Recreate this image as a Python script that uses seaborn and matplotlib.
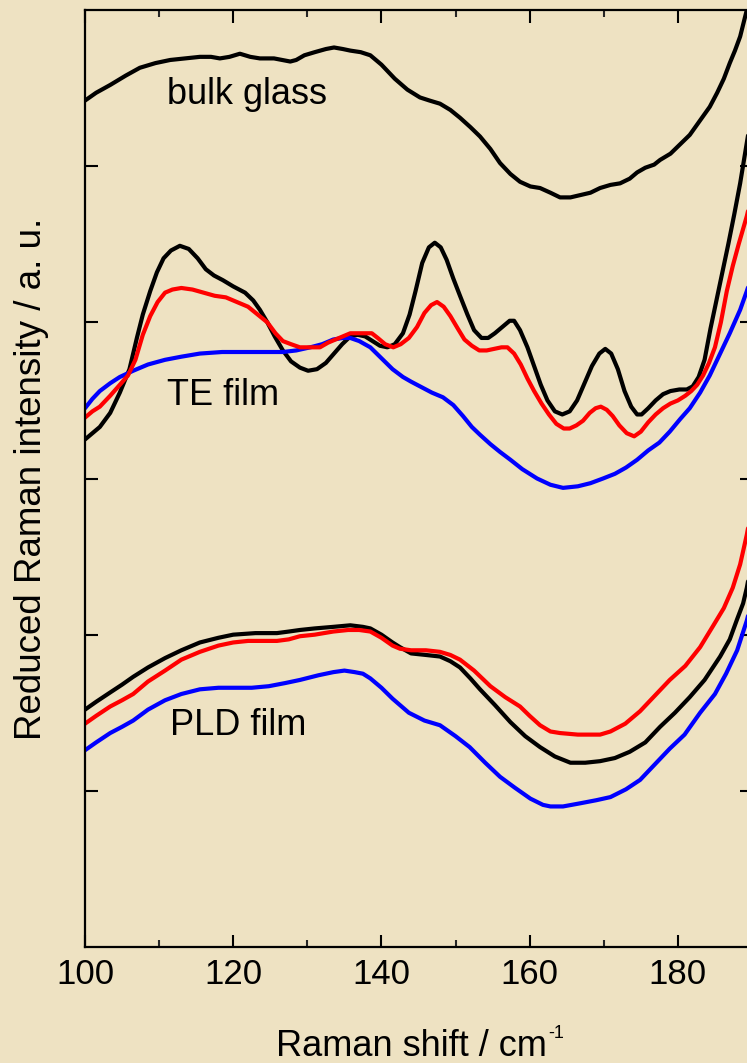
import numpy as np
import pandas as pd
import matplotlib
matplotlib.use("Agg")
import matplotlib.pyplot as plt
from matplotlib.ticker import MultipleLocator
import seaborn as sns

# ---------------- data (Raman shift in cm^-1, reduced intensity in a.u.) ----------------
bulk_x = [100.0, 101.5, 103.4, 105.5, 107.4, 109.5, 111.5, 113.5, 115.5, 117.0, 118.2, 119.5,
          120.9, 122.3, 123.6, 125.5, 127.7, 128.5, 129.6, 131.0, 132.5, 133.6, 134.8, 135.8,
          137.2, 138.5, 140.0, 141.8, 143.5, 145.2, 146.5, 147.9, 149.3, 150.6, 152.0, 153.3,
          154.7, 156.0, 157.4, 158.7, 160.1, 161.4, 162.8, 164.1, 165.5, 166.4, 168.2, 169.5,
          170.9, 172.2, 173.5, 174.5, 175.6, 176.8, 177.6, 179.0, 180.3, 181.6, 182.5, 183.4,
          184.3, 185.3, 186.2, 187.0, 187.7, 188.4, 189.3, 190.0]
bulk_y = [5.42, 5.47, 5.52, 5.58, 5.63, 5.66, 5.68, 5.69, 5.70, 5.70, 5.69, 5.70,
          5.72, 5.70, 5.69, 5.69, 5.67, 5.68, 5.71, 5.73, 5.75, 5.76, 5.75, 5.74,
          5.73, 5.71, 5.65, 5.56, 5.49, 5.44, 5.42, 5.40, 5.36, 5.31, 5.25, 5.19,
          5.11, 5.02, 4.95, 4.90, 4.87, 4.86, 4.83, 4.80, 4.80, 4.81, 4.83, 4.86,
          4.88, 4.89, 4.92, 4.96, 4.99, 5.01, 5.04, 5.08, 5.14, 5.20, 5.26, 5.32,
          5.38, 5.47, 5.56, 5.66, 5.74, 5.83, 6.00, 6.12]

te_black_x = [100.0, 101.0, 102.0, 103.4, 104.7, 106.0, 107.0, 107.8, 108.8, 109.7, 110.6, 111.6,
              112.8, 114.0, 115.2, 116.3, 117.4, 118.6, 120.0, 121.6, 122.7, 123.6, 124.6, 125.6,
              126.7, 127.8, 129.0, 130.1, 131.3, 132.5, 133.6, 134.7, 135.8, 136.8, 137.8, 138.8,
              139.8, 140.8, 141.8, 142.9, 143.8, 144.6, 145.5, 146.4, 147.2, 148.0, 148.8, 149.7,
              150.6, 151.6, 152.5, 153.5, 154.4, 155.3, 156.3, 157.3, 157.9, 158.7, 159.7, 160.6,
              161.5, 162.4, 163.4, 164.4, 165.4, 166.4, 167.4, 168.4, 169.4, 170.2, 171.0, 171.9,
              172.8, 173.7, 174.5, 175.1, 176.0, 177.0, 178.0, 179.0, 180.2, 181.2, 182.0, 182.8,
              183.6, 184.4, 185.2, 186.0, 186.8, 187.6, 188.4, 189.3, 190.0]
te_black_y = [3.25, 3.29, 3.33, 3.42, 3.55, 3.70, 3.90, 4.05, 4.20, 4.32, 4.41, 4.46,
              4.49, 4.47, 4.41, 4.34, 4.30, 4.27, 4.23, 4.19, 4.14, 4.08, 4.00, 3.91,
              3.82, 3.75, 3.71, 3.69, 3.70, 3.74, 3.80, 3.86, 3.91, 3.92, 3.91, 3.88,
              3.85, 3.84, 3.86, 3.93, 4.05, 4.20, 4.38, 4.48, 4.51, 4.48, 4.40, 4.28,
              4.17, 4.05, 3.95, 3.90, 3.90, 3.93, 3.97, 4.01, 4.01, 3.95, 3.84, 3.72,
              3.60, 3.50, 3.43, 3.41, 3.43, 3.50, 3.61, 3.72, 3.80, 3.83, 3.80, 3.70,
              3.56, 3.46, 3.41, 3.41, 3.45, 3.50, 3.54, 3.56, 3.57, 3.57, 3.59, 3.65,
              3.76, 3.96, 4.14, 4.32, 4.50, 4.69, 4.89, 5.15, 5.35]

te_red_x = [100.0, 101.0, 102.0, 103.4, 104.7, 105.8, 106.8, 107.8, 108.8, 109.8, 110.8, 111.8,
            113.0, 114.5, 116.0, 117.5, 119.0, 120.5, 122.0, 123.3, 124.6, 125.7, 126.7, 127.8,
            129.0, 130.4, 131.7, 132.8, 133.8, 134.8, 135.8, 137.0, 137.8, 138.7, 139.5, 140.5,
            141.6, 142.6, 143.7, 144.8, 145.8, 146.7, 147.5, 148.4, 149.3, 150.3, 151.2, 152.2,
            153.2, 154.2, 155.2, 156.2, 157.0, 157.9, 158.8, 159.7, 160.6, 161.6, 162.6, 163.6,
            164.6, 165.4, 166.3, 167.2, 168.1, 168.9, 169.6, 170.4, 171.2, 172.1, 173.1, 174.1,
            175.0, 176.0, 177.0, 178.0, 179.0, 180.0, 181.0, 181.8, 182.6, 183.4, 184.2, 185.0,
            185.8, 186.6, 187.4, 188.2, 189.3, 190.0]
te_red_y = [3.39, 3.43, 3.46, 3.53, 3.60, 3.66, 3.76, 3.92, 4.04, 4.13, 4.19, 4.21,
            4.22, 4.21, 4.19, 4.17, 4.16, 4.13, 4.10, 4.05, 4.00, 3.93, 3.88, 3.86,
            3.84, 3.84, 3.84, 3.87, 3.89, 3.91, 3.93, 3.93, 3.93, 3.93, 3.90, 3.86,
            3.84, 3.86, 3.90, 3.97, 4.06, 4.11, 4.13, 4.10, 4.04, 3.96, 3.89, 3.85,
            3.82, 3.82, 3.83, 3.84, 3.84, 3.80, 3.73, 3.64, 3.56, 3.48, 3.41, 3.35,
            3.32, 3.32, 3.34, 3.37, 3.42, 3.45, 3.46, 3.44, 3.40, 3.34, 3.29, 3.27,
            3.30, 3.36, 3.41, 3.45, 3.48, 3.50, 3.53, 3.56, 3.60, 3.66, 3.74, 3.84,
            4.00, 4.20, 4.36, 4.50, 4.68, 4.82]

te_blue_x = [100.0, 101.0, 102.0, 103.4, 104.7, 106.5, 108.5, 110.8, 113.0, 115.5, 118.5, 122.3,
             126.7, 128.5, 130.4, 132.0, 133.5, 134.8, 135.8, 137.0, 138.5, 140.0, 141.5, 142.9,
             144.0, 145.2, 146.8, 148.3, 149.7, 151.0, 152.2, 153.3, 154.7, 156.0, 157.4, 159.0,
             161.0, 162.8, 164.5, 166.5, 168.2, 169.9, 171.5, 173.0, 174.5, 176.0, 177.5, 178.9,
             180.3, 181.6, 183.0, 184.3, 185.7, 187.0, 188.4, 189.3, 190.0]
te_blue_y = [3.45, 3.51, 3.56, 3.61, 3.65, 3.69, 3.73, 3.76, 3.78, 3.80, 3.81, 3.81,
             3.81, 3.82, 3.84, 3.86, 3.89, 3.90, 3.90, 3.88, 3.84, 3.77, 3.70, 3.65,
             3.62, 3.59, 3.55, 3.52, 3.47, 3.40, 3.33, 3.28, 3.22, 3.17, 3.12, 3.06,
             3.00, 2.96, 2.94, 2.95, 2.97, 3.00, 3.03, 3.07, 3.12, 3.18, 3.23, 3.30,
             3.38, 3.45, 3.55, 3.66, 3.80, 3.93, 4.08, 4.20, 4.30]

pld_black_x = [100.0, 101.5, 103.4, 105.0, 106.5, 108.5, 110.8, 113.0, 115.5, 118.0, 120.0, 123.0,
               125.9, 127.5, 129.0, 131.0, 133.5, 135.8, 137.5, 138.5, 140.0, 141.5, 142.5, 144.0,
               146.0, 147.9, 149.3, 150.6, 152.0, 153.3, 155.3, 157.4, 159.4, 161.4, 163.4, 165.5,
               167.5, 169.5, 171.5, 173.5, 175.6, 177.6, 179.6, 181.6, 183.6, 185.7, 187.0, 188.0,
               188.8, 189.3, 190.0]
pld_black_y = [1.52, 1.57, 1.63, 1.68, 1.73, 1.79, 1.85, 1.90, 1.95, 1.98, 2.00, 2.01,
               2.01, 2.02, 2.03, 2.04, 2.05, 2.06, 2.05, 2.04, 2.00, 1.95, 1.92, 1.88,
               1.87, 1.86, 1.83, 1.79, 1.72, 1.65, 1.55, 1.44, 1.35, 1.28, 1.22, 1.18,
               1.18, 1.19, 1.21, 1.25, 1.31, 1.41, 1.50, 1.60, 1.71, 1.86, 1.97, 2.10,
               2.20, 2.30, 2.48]

pld_red_x = [100.0, 101.5, 103.4, 105.0, 106.5, 108.5, 110.8, 113.0, 115.5, 118.0, 120.0, 122.0,
             123.6, 125.9, 127.5, 129.0, 131.0, 133.5, 135.5, 137.0, 138.5, 140.0, 141.5, 142.5,
             144.0, 146.0, 147.9, 149.3, 150.6, 152.5, 154.7, 156.7, 158.7, 160.0, 161.4, 162.8,
             164.1, 166.5, 169.5, 170.9, 172.9, 174.9, 176.9, 178.9, 181.0, 183.0, 184.8, 186.2,
             187.4, 188.4, 189.3, 190.0]
pld_red_y = [1.43, 1.48, 1.54, 1.58, 1.62, 1.70, 1.77, 1.84, 1.89, 1.93, 1.95, 1.96,
             1.96, 1.96, 1.97, 1.99, 2.00, 2.02, 2.03, 2.03, 2.02, 1.98, 1.93, 1.91,
             1.90, 1.90, 1.89, 1.87, 1.84, 1.77, 1.67, 1.60, 1.54, 1.48, 1.42, 1.38,
             1.37, 1.36, 1.36, 1.38, 1.43, 1.51, 1.61, 1.71, 1.80, 1.92, 2.06, 2.17,
             2.30, 2.45, 2.64, 2.82]

pld_blue_x = [100.0, 101.5, 103.4, 105.0, 106.5, 108.5, 110.8, 113.0, 115.5, 118.0, 120.0, 122.5,
              124.8, 127.0, 129.0, 131.5, 133.5, 135.0, 136.4, 137.5, 138.5, 140.0, 141.5, 143.7,
              145.8, 147.9, 150.0, 151.9, 154.0, 156.0, 158.0, 160.1, 161.8, 162.8, 164.5, 166.8,
              169.0, 170.9, 173.0, 174.9, 176.9, 178.9, 180.9, 183.0, 185.0, 186.5, 188.0, 189.3,
              190.0]
pld_blue_y = [1.26, 1.31, 1.37, 1.41, 1.45, 1.52, 1.58, 1.62, 1.65, 1.66, 1.66, 1.66,
              1.67, 1.69, 1.71, 1.74, 1.76, 1.77, 1.76, 1.75, 1.72, 1.66, 1.59, 1.50,
              1.45, 1.42, 1.35, 1.28, 1.18, 1.09, 1.02, 0.95, 0.91, 0.90, 0.90, 0.92,
              0.94, 0.96, 1.01, 1.07, 1.17, 1.27, 1.36, 1.50, 1.62, 1.75, 1.90, 2.09,
              2.22]

x_ticks = [100, 120, 140, 160, 180]
sample_labels = ["bulk glass", "TE film", "PLD film"]

# ---------------- style ----------------
sns.set_theme(style="ticks")
plt.rcParams["font.family"] = ["Liberation Sans", "DejaVu Sans"]

paper = "#EEE2C2"
fig = plt.figure(figsize=(7.47, 10.63), dpi=100, facecolor=paper)
ax = fig.add_axes([85 / 747, 116 / 1063, 667 / 747, 937 / 1063])
ax.set_facecolor(paper)

lw = 3.0
curves = [
    (bulk_x, bulk_y, "black"),
    (te_black_x, te_black_y, "black"),
    (te_blue_x, te_blue_y, "#0000FF"),
    (te_red_x, te_red_y, "#FF0000"),
    (pld_black_x, pld_black_y, "black"),
    (pld_blue_x, pld_blue_y, "#0000FF"),
    (pld_red_x, pld_red_y, "#FF0000"),
]
for xs, ys, col in curves:
    df = pd.DataFrame({"shift": xs, "intensity": ys})
    sns.lineplot(data=df, x="shift", y="intensity", ax=ax, color=col,
                 linewidth=lw, estimator=None, sort=False, legend=False)
for line in ax.get_lines():
    line.set_solid_joinstyle("round")
    line.set_solid_capstyle("round")

ax.set_xlim(100, 190)
ax.set_ylim(0, 6)

# axes frame and ticks
for side in ["left", "right", "top", "bottom"]:
    ax.spines[side].set_visible(True)
    ax.spines[side].set_color("black")
    ax.spines[side].set_linewidth(1.6)

ax.set_xticks(x_ticks)
ax.set_xticklabels([str(t) for t in x_ticks])
ax.xaxis.set_minor_locator(MultipleLocator(10))
ax.set_yticks([1, 2, 3, 4, 5])
ax.set_yticklabels([])
ax.tick_params(axis="both", which="major", direction="in", length=9, width=1.5,
               top=True, right=True, colors="black", labelsize=25, pad=8)
ax.tick_params(axis="x", which="minor", direction="in", length=5, width=1.5,
               top=True, bottom=True)
ax.tick_params(axis="y", which="minor", left=False, right=False)

ax.set_xlabel("Raman shift / cm", fontsize=26, color="black")
ax.xaxis.set_label_coords(0.4895, -0.0875)
ax.xaxis.label.set_va("top")
ax.annotate("-1", xy=(1, 1), xycoords=ax.xaxis.label, xytext=(1, 3),
            textcoords="offset points", ha="left", va="top", fontsize=13, color="black")

ax.set_ylabel("Reduced Raman intensity / a. u.", fontsize=26.5, color="black")
ax.yaxis.set_label_coords(-0.054, 0.5)

# sample annotations
label_pos = [(111.06, 5.40), (111.06, 3.47), (111.47, 1.357)]
for name, (lx, ly) in zip(sample_labels, label_pos):
    ax.text(lx, ly, name, fontsize=26, color="black", ha="left", va="baseline")

fig.savefig("out.png", dpi=100, facecolor=paper)
